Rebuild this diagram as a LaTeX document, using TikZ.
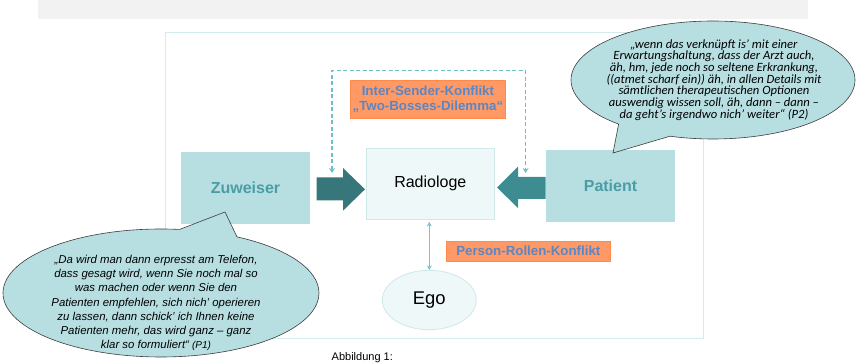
\documentclass[tikz,border=0pt]{standalone}
\usepackage{fontspec}
\setmainfont{Liberation Sans}
\newfontfamily\calfont{Carlito}
\usetikzlibrary{shapes.geometric,shapes.callouts,arrows.meta}
\definecolor{bandgrey}{HTML}{F2F2F2}
\definecolor{framecol}{HTML}{D3ECEE}
\definecolor{boxteal}{HTML}{B7DFE2}
\definecolor{labteal}{HTML}{4B9DA5}
\definecolor{pale}{HTML}{EFF8F8}
\definecolor{paleline}{HTML}{CFE9EB}
\definecolor{darkarrow}{HTML}{37767B}
\definecolor{midarrow}{HTML}{3D8C92}
\definecolor{dashteal}{HTML}{6CC0C7}
\definecolor{orangefill}{HTML}{FF9A66}
\definecolor{orangeline}{HTML}{FF8A4A}
\definecolor{conflblue}{HTML}{5A86C4}
\definecolor{bubbleline}{HTML}{3C3C3C}
\definecolor{dblarrow}{HTML}{7DC4CA}
\tikzset{
  lbox/.style={fill=boxteal, draw=none, minimum width=129pt, minimum height=71.7pt,
    inner sep=0pt, text=labteal, font=\fontsize{16}{19}\selectfont\bfseries},
  radbox/.style={fill=pale, draw=paleline, line width=0.8pt, minimum width=127.3pt,
    minimum height=71pt, inner sep=0pt, font=\fontsize{16}{19}\selectfont},
  egoshape/.style={ellipse, fill=pale, draw=paleline, line width=0.8pt, minimum width=94pt,
    minimum height=59.4pt, inner sep=0pt, font=\fontsize{18.4}{21}\selectfont},
  conflict/.style={fill=orangefill, draw=orangeline, line width=0.8pt, inner sep=0pt,
    text=conflblue, font=\fontsize{13.3}{15.7}\selectfont\bfseries, align=center},
  bubble/.style={ellipse callout, fill=boxteal, draw=bubbleline, line width=0.6pt, inner sep=0pt},
  dashconn/.style={draw=dashteal, line width=1.3pt, dash pattern=on 4pt off 2.5pt,
    {Stealth[length=5pt,width=6pt]}-{Stealth[length=5pt,width=6pt]}},
  dblconn/.style={draw=dblarrow, line width=1.1pt,
    {Stealth[length=4.5pt,width=5pt]}-{Stealth[length=4.5pt,width=5pt]}},
  quoteA/.style={align=center, inner sep=0pt, font=\fontsize{11.4}{14.2}\selectfont\itshape},
  quoteB/.style={align=center, inner sep=0pt, font=\calfont\fontsize{12.6}{11.7}\selectfont\itshape},
}
\begin{document}
\begin{tikzpicture}[x=1pt,y=-1pt]
\useasboundingbox (0,0) rectangle (856,363);
% top grey band
\fill[bandgrey] (38,0) rectangle (808,18.7);
% frame
\draw[framecol, line width=1pt] (165.7,32.3) rectangle (703,338.4);

% dashed connector
\coordinate (dl) at (332,173);
\coordinate (dr) at (525.6,173);
\coordinate (dtop) at (428,70.5);
\draw[dashconn] (dl) |- (dtop) -| (dr);

\node[conflict, minimum width=155.7pt, minimum height=38.7pt] (inter) at (427.9,99.3)
  {Inter-Sender-Konflikt\\„Two-Bosses-Dilemma“};

% boxes
\node[lbox] (zuw) at (245.5,188.2) {Zuweiser};
\node[lbox] (pat) at (610.5,185.9) {Patient};
\node[radbox] (rad) at (430.3,183.5) {Radiologe};

% big arrows
\fill[darkarrow] (316.7,177.5) -- (343,177.5) -- (343,168) -- (365,189.3) -- (343,210.7)
  -- (343,200.5) -- (316.7,200.5) -- cycle;
\fill[midarrow] (545.7,177) -- (518,177) -- (518,166.7) -- (497,187.5) -- (518,208)
  -- (518,199) -- (545.7,199) -- cycle;

% ego
\node[egoshape] (ego) at (429.3,300) {Ego};
\draw[dblconn, shorten <=2.5pt] (rad.south -| ego.north) -- (ego.north);

\node[conflict, minimum width=164.7pt, minimum height=20pt] (prk) at (528.3,251)
  {Person-Rollen-Konflikt};

% speech bubbles
\node[bubble, minimum width=284pt, minimum height=118pt, callout pointer arc=24,
  callout absolute pointer={(613,153)}] (b2) at (713,80) {};
\node[quoteB] (t2) at (714,80) {„wenn das verknüpft is’ mit einer\\
Erwartungshaltung,\ dass der Arzt auch,\\
äh, hm, jede noch so seltene Erkrankung,\\
((atmet scharf ein)) äh, in allen Details mit\\
sämtlichen therapeutischen Optionen\\
auswendig wissen soll, äh, dann – dann –\\
da geht’s irgendwo nich’ weiter“ (P2)};

\node[bubble, minimum width=316pt, minimum height=128pt, callout pointer arc=22,
  callout absolute pointer={(225,212)}] (b1) at (161,293) {};
\node[quoteA] (t1) at (156,303) {„Da wird man dann erpresst am Telefon,\\
dass gesagt wird, wenn Sie noch mal so\\
was machen oder wenn Sie den\\
Patienten empfehlen, sich nich’ operieren\\
zu lassen, dann schick’ ich Ihnen keine\\
Patienten mehr, das wird ganz – ganz\\
klar so formuliert“ {\fontsize{10}{12}\selectfont(P1)}};

% caption (near the bottom edge)
\node[anchor=base west, inner sep=0pt, font=\fontsize{11}{13}\selectfont] (cap) at (331.5,360.5) {Abbildung 1:};
\end{tikzpicture}
\end{document}
